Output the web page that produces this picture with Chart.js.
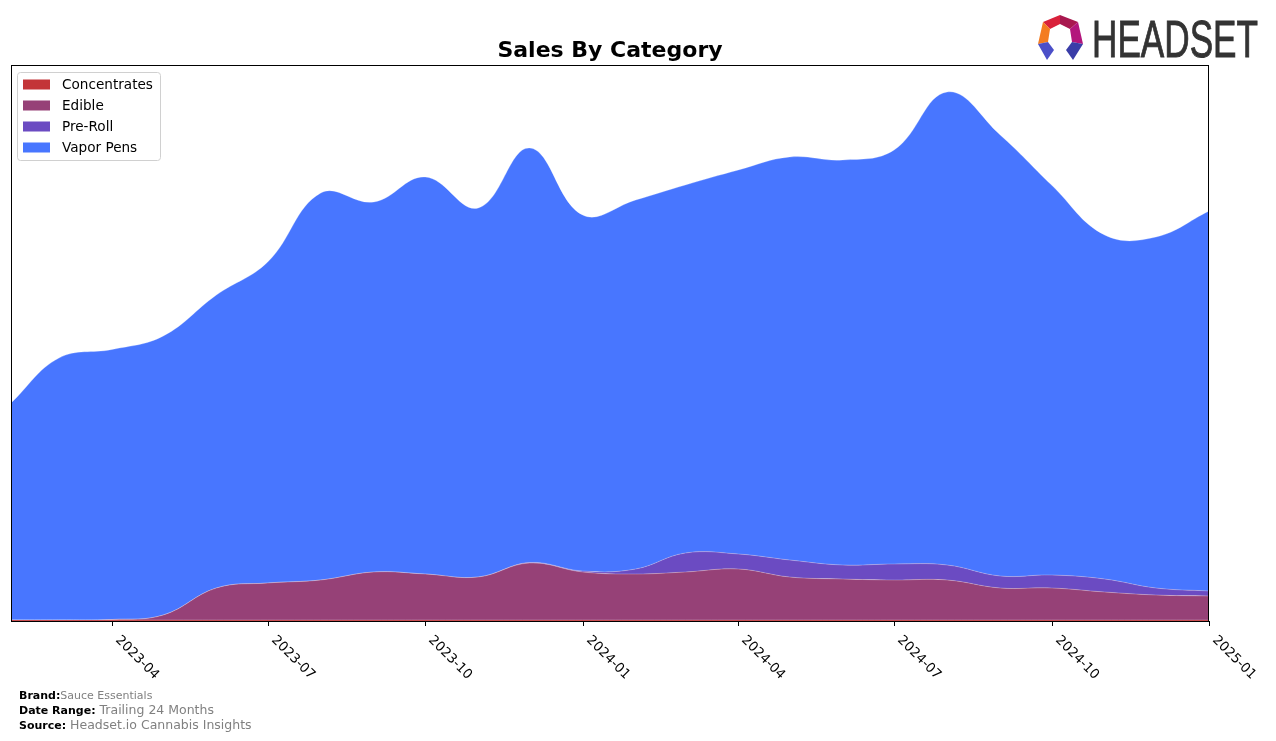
<!DOCTYPE html>
<html>
<head>
<meta charset="utf-8">
<script src="https://cdn.jsdelivr.net/npm/chart.js@4.4.1/dist/chart.umd.min.js"></script>
<style>
  html, body { margin: 0; padding: 0; background: #fff; }
  #wrap { width: 1276px; height: 741px; }
</style>
</head>
<body>
<div id="wrap"><canvas id="salesChart" width="1276" height="741"></canvas></div>
<script>
// monthly points, first of each month
const months = [
  "2023-02", "2023-03", "2023-04", "2023-05", "2023-06", "2023-07",
  "2023-08", "2023-09", "2023-10", "2023-11", "2023-12", "2024-01",
  "2024-02", "2024-03", "2024-04", "2024-05", "2024-06", "2024-07",
  "2024-08", "2024-09", "2024-10", "2024-11", "2024-12", "2025-01",
];
const concentrates = [1, 1, 1, 1, 1, 1, 1, 1, 1, 1, 1, 1, 1, 1, 1, 1, 1, 1, 1, 1, 1, 1, 1, 1];
const edible = [0, 0, 0.5, 5, 32, 37, 40, 48, 46, 43, 57, 48, 46, 48, 51, 43, 41, 40, 40, 32, 32, 28, 25, 24];
const preRoll = [0, 0, 0, 0, 0, 0, 0, 0, 0, 0, 0.5, 1, 5, 19, 15, 17, 14, 16, 15, 12, 13, 13, 7, 5];
const vaporPens = [217, 262, 270, 279, 293, 321, 387, 370, 397, 369, 414.5, 356, 369, 368, 384, 403, 405, 414, 473, 441, 390, 344, 351, 380];

const tickLabels = ["2023-04", "2023-07", "2023-10", "2024-01", "2024-04", "2024-07", "2024-10", "2025-01"];

const categories = ["Concentrates", "Edible", "Pre-Roll", "Vapor Pens"];
const colors = ["#C33538", "#964177", "#6B4BC2", "#4876FF"];

function dayOffset(label) {
  const [y, m] = label.split("-").map(Number);
  return (Date.UTC(y, m - 1, 1) - Date.UTC(2023, 1, 1)) / 86400000;
}

function toPoints(values) {
  return values.map((v, i) => ({ x: dayOffset(months[i]), y: v }));
}

const seriesValues = [concentrates, edible, preRoll, vaporPens];

const datasets = categories.map((name, i) => ({
  label: name,
  data: toPoints(seriesValues[i]),
  backgroundColor: colors[i],
  borderColor: "rgba(255,255,255,0.25)",
  borderWidth: 1,
  pointRadius: 0,
  tension: 0.4,
  fill: i === 0 ? "origin" : "-1",
}));

const decorPlugin = {
  id: "decor",
  afterDraw(chart) {
    const ctx = chart.ctx;
    const area = chart.chartArea;
    const xScale = chart.scales.x;

    ctx.save();
    // frame
    ctx.strokeStyle = "#000";
    ctx.lineWidth = 1;
    ctx.strokeRect(area.left + 0.5, area.top + 0.5, area.right - area.left - 1, area.bottom - area.top);

    // ticks and rotated labels
    ctx.fillStyle = "#000";
    ctx.font = "13.3px 'DejaVu Sans'";
    tickLabels.forEach((lab) => {
      const x = Math.round(xScale.getPixelForValue(dayOffset(lab))) + 0.5;
      ctx.beginPath();
      ctx.moveTo(x, area.bottom);
      ctx.lineTo(x, area.bottom + 5);
      ctx.stroke();
      ctx.save();
      ctx.translate(x + 5, area.bottom + 17);
      ctx.rotate(Math.PI / 4);
      ctx.textAlign = "left";
      ctx.textBaseline = "middle";
      ctx.fillText(lab, 0, 0);
      ctx.restore();
    });

    // title
    ctx.font = "bold 22px 'DejaVu Sans'";
    ctx.textAlign = "center";
    ctx.textBaseline = "alphabetic";
    ctx.fillText("Sales By Category", (area.left + area.right) / 2, 57);

    // legend
    ctx.fillStyle = "rgba(255,255,255,0.85)";
    ctx.strokeStyle = "#d0d0d0";
    ctx.beginPath();
    ctx.roundRect(17.5, 72.5, 143, 88, 3);
    ctx.fill();
    ctx.stroke();
    ctx.font = "13.6px 'DejaVu Sans'";
    ctx.textAlign = "left";
    ctx.textBaseline = "middle";
    categories.forEach((name, i) => {
      const cy = 84.5 + i * 21;
      ctx.fillStyle = colors[i];
      ctx.fillRect(23, cy - 5, 27, 10);
      ctx.fillStyle = "#000";
      ctx.fillText(name, 62, cy + 0.5);
    });

    // footer
    const footer = [
      ["Brand:", "Sauce Essentials", 11, 696],
      ["Date Range:", " Trailing 24 Months", 12.5, 711],
      ["Source:", " Headset.io Cannabis Insights", 12.5, 726],
    ];
    footer.forEach(([k, v, size, y]) => {
      ctx.font = "bold 11px 'DejaVu Sans'";
      ctx.fillStyle = "#000";
      ctx.fillText(k, 19, y);
      const w = ctx.measureText(k).width;
      ctx.font = size + "px 'DejaVu Sans'";
      ctx.fillStyle = "#808080";
      ctx.fillText(v, 19 + w, y);
    });

    // logo icon
    const poly = (pts, c) => {
      ctx.fillStyle = c;
      ctx.beginPath();
      pts.forEach(([px, py], j) => (j ? ctx.lineTo(px, py) : ctx.moveTo(px, py)));
      ctx.closePath();
      ctx.fill();
    };
    poly([[1043, 22], [1060, 15], [1060, 24], [1050, 29]], "#D9213B");
    poly([[1060, 15], [1078, 22], [1070, 29], [1060, 24]], "#A8184F");
    poly([[1043, 22], [1050, 29], [1048, 42], [1038, 44]], "#F47C20");
    poly([[1078, 22], [1083, 44], [1072, 42], [1070, 29]], "#B3167C");
    poly([[1038, 44], [1048, 42], [1054, 50], [1047, 60]], "#4B4FC8");
    poly([[1083, 44], [1072, 42], [1066, 50], [1073, 60]], "#3A3DA8");

    // logo text
    ctx.font = "52px 'Liberation Sans Narrow', 'Liberation Sans', sans-serif";
    ctx.fillStyle = "#333333";
    ctx.strokeStyle = "#333333";
    ctx.lineWidth = 0.9;
    ctx.textBaseline = "alphabetic";
    const tw = ctx.measureText("HEADSET").width;
    ctx.save();
    ctx.translate(1092, 57);
    ctx.scale(166 / tw, 1);
    ctx.fillText("HEADSET", 0, 0);
    ctx.strokeText("HEADSET", 0, 0);
    ctx.restore();

    ctx.restore();
  },
};

new Chart(document.getElementById("salesChart"), {
  type: "line",
  data: { datasets: datasets },
  options: {
    responsive: false,
    devicePixelRatio: 1,
    animation: false,
    layout: { padding: { left: 11, top: 65, right: 67, bottom: 120 } },
    plugins: {
      legend: { display: false },
      tooltip: { enabled: false },
      title: { display: false },
    },
    scales: {
      x: {
        type: "linear",
        min: 0,
        max: dayOffset("2025-01"),
        display: false,
      },
      y: {
        stacked: true,
        min: 0,
        max: 556,
        display: false,
      },
    },
  },
  plugins: [decorPlugin],
});
</script>
</body>
</html>
